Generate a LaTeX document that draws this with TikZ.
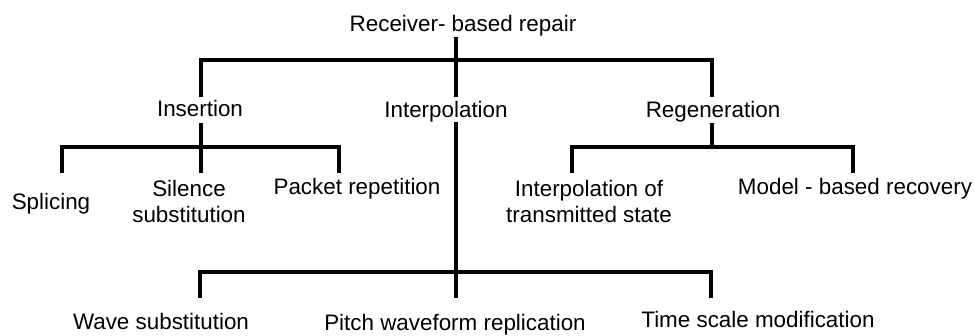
\documentclass[tikz,border=0pt]{standalone}
\usepackage{fontspec}
\setmainfont{Liberation Sans}
\usetikzlibrary{calc}
\newcommand\lblfont{\fontsize{22.4}{26}\selectfont}
\begin{document}
\begin{tikzpicture}[x=1pt,y=-1pt,
  lbl/.style={font=\lblfont, inner sep=0pt, anchor=base, align=center},
  conn/.style={line width=3.2pt, line join=miter}]
\useasboundingbox (0,0) rectangle (975,336);
% labels
\node[lbl] (root) at (463,32) {Receiver- based repair};
\node[lbl] (ins) at (200,117) {Insertion};
\node[lbl] (itp) at (446,117.5) {Interpolation};
\node[lbl] (rg) at (713,118) {Regeneration};
\node[lbl] (spl) at (51,210) {Splicing};
\node[lbl] (sil) at (189,223) {Silence\\substitution};
\node[lbl] (pkt) at (357,195) {Packet repetition};
\node[lbl] (its) at (589,223) {Interpolation of\\transmitted state};
\node[lbl] (mod) at (855,195) {Model - based recovery};
\node[lbl] (wav) at (161,330) {Wave substitution};
\node[lbl] (pit) at (455,331) {Pitch waveform replication};
\node[lbl] (tim) at (758,328) {Time scale modification};
% junctions
\coordinate (j0) at (456,60);
\coordinate (j1) at (201,147);
\coordinate (j2) at (712,147);
\coordinate (j3) at (456,272);
% drop ends
\coordinate (dSpl) at (62,173);
\coordinate (dSil) at (201,173);
\coordinate (dPkt) at (339,173);
\coordinate (dIts) at (572,173);
\coordinate (dMod) at (853,173);
\coordinate (dWav) at (200,298);
\coordinate (dPit) at (456,298);
\coordinate (dTim) at (711,298);
% level 1
\draw[conn] (root.south -| j0) -- ($(itp.north -| j0)+(0,-4)$);
\draw[conn] ($(ins.north -| j1)+(0,-4)$) |- (j0) -| ($(rg.north -| j2)+(0,-5)$);
% level 2
\draw[conn] ($(ins.south -| j1)+(0,6)$) -- (j1);
\draw[conn] (dSpl) |- (j1) -| (dPkt);
\draw[conn] (j1) -- (dSil);
\draw[conn] (rg.south -| j2) -- (j2);
\draw[conn] (dIts) |- (j2) -| (dMod);
\draw[conn] (itp.south -| j3) -- (j3);
\draw[conn] (dWav) |- (j3) -| (dTim);
\draw[conn] (j3) -- (dPit);
\end{tikzpicture}
\end{document}
